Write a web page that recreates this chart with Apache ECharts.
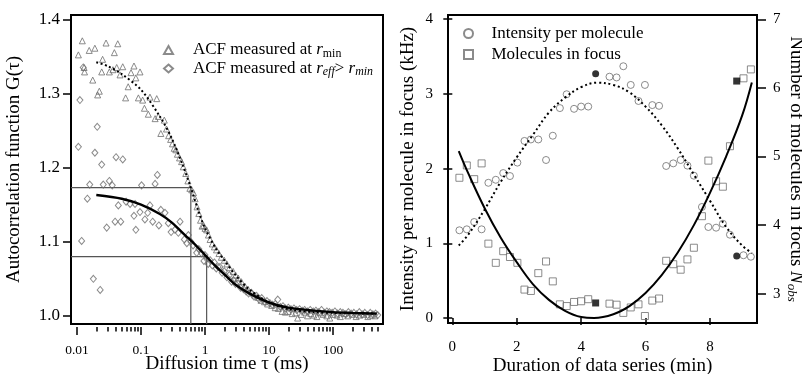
<!DOCTYPE html>
<html><head><meta charset="utf-8">
<script src="https://cdn.jsdelivr.net/npm/echarts@6/dist/echarts.min.js"></script>
<style>html,body{margin:0;padding:0;background:#fff}#c{width:802px;height:374px}</style>
</head><body><div id="c"></div>
<script>
// ---------- Left panel data: [tau (ms), G(tau)] ----------
const acfRmin = [[0.0105,1.352],[0.0121,1.371],[0.0129,1.335],[0.0131,1.329],[0.0155,1.358],[0.0176,1.318],[0.019,1.361],[0.021,1.298],[0.0223,1.303],[0.0243,1.329],[0.0251,1.346],[0.0284,1.368],[0.032,1.329],[0.0364,1.332],[0.0383,1.355],[0.0417,1.335],[0.0433,1.367],[0.047,1.325],[0.0518,1.336],[0.0574,1.294],[0.063,1.309],[0.0698,1.328],[0.0776,1.337],[0.083,1.321],[0.091,1.294],[0.0964,1.329],[0.106,1.291],[0.113,1.28],[0.13,1.272],[0.138,1.295],[0.166,1.266],[0.176,1.293],[0.186,1.269],[0.204,1.246],[0.231,1.264],[0.25,1.252],[0.27,1.243],[0.29,1.238],[0.31,1.232],[0.33,1.226],[0.35,1.224],[0.37,1.218],[0.4,1.213],[0.43,1.208],[0.457,1.201],[0.5,1.192],[0.54,1.182],[0.58,1.172],[0.62,1.17],[0.66,1.166],[0.7,1.158],[0.75,1.147],[0.8,1.138],[0.85,1.129],[0.9,1.121],[0.95,1.122],[1.0,1.118],[1.06,1.116],[1.13,1.109],[1.2,1.103],[1.3,1.097],[1.4,1.093],[1.51,1.089],[1.65,1.084],[1.8,1.079],[2.0,1.075],[2.2,1.07],[2.4,1.065],[2.75,1.06],[3.0,1.055],[3.3,1.051],[3.7,1.046],[4.2,1.04],[4.7,1.036],[5.3,1.032],[6.0,1.028],[6.7,1.025],[7.5,1.021],[8.5,1.019],[9.5,1.016],[11,1.014],[12.5,1.011],[14,1.01],[16,1.006],[18,1.005],[20,1.006],[23,1.003],[26,1.004],[28,0.997],[32,1.002],[36,1.005],[40,1.0],[45,1.003],[50,1.001],[56,0.999],[63,1.004],[70,1.002],[80,1.0],[89,0.997],[100,1.002],[115,1.001],[130,0.999],[150,1.003],[170,1.0],[200,1.002],[230,0.999],[260,1.001],[300,1.002],[350,0.999],[400,1.001],[450,1.0]];
const acfReff = [[0.0105,1.228],[0.0111,1.291],[0.0118,1.101],[0.0125,1.335],[0.0145,1.158],[0.0158,1.177],[0.018,1.05],[0.019,1.22],[0.0207,1.255],[0.023,1.035],[0.0243,1.204],[0.0257,1.177],[0.0291,1.119],[0.032,1.182],[0.0355,1.176],[0.0393,1.127],[0.0407,1.214],[0.0442,1.149],[0.0482,1.127],[0.0518,1.211],[0.0584,1.154],[0.0675,1.151],[0.0776,1.135],[0.0806,1.151],[0.083,1.116],[0.0964,1.14],[0.102,1.176],[0.115,1.13],[0.127,1.139],[0.138,1.149],[0.152,1.127],[0.166,1.178],[0.18,1.19],[0.19,1.122],[0.204,1.143],[0.237,1.139],[0.267,1.125],[0.295,1.113],[0.339,1.116],[0.383,1.112],[0.407,1.127],[0.475,1.103],[0.52,1.098],[0.55,1.109],[0.6,1.1],[0.65,1.095],[0.74,1.085],[0.8,1.09],[0.89,1.084],[0.96,1.074],[1.0,1.082],[1.06,1.077],[1.12,1.07],[1.2,1.075],[1.3,1.068],[1.4,1.072],[1.5,1.064],[1.6,1.066],[1.71,1.066],[1.85,1.058],[2.0,1.06],[2.2,1.052],[2.4,1.055],[2.6,1.046],[2.8,1.048],[3.0,1.043],[3.3,1.044],[3.6,1.038],[4.0,1.036],[4.4,1.033],[4.8,1.03],[5.3,1.031],[5.8,1.026],[6.4,1.027],[7.0,1.022],[7.7,1.024],[8.5,1.019],[9.3,1.02],[10.3,1.017],[11.3,1.015],[12.5,1.016],[13.7,1.022],[15,1.012],[16.5,1.013],[18,1.01],[20,1.011],[22,1.009],[24.5,1.01],[27,1.008],[30,1.009],[33,1.007],[36,1.008],[40,1.006],[44,1.008],[49,1.006],[54,1.007],[60,1.005],[66,1.008],[73,1.004],[80,1.006],[88,1.005],[97,1.004],[107,1.006],[118,1.003],[130,1.005],[143,1.004],[158,1.002],[174,1.005],[192,1.003],[212,1.004],[234,1.002],[258,1.005],[285,1.002],[314,1.004],[346,1.001],[382,1.004],[420,1.002],[463,1.003],[500,1.001]];
const fitRmin = [[0.02,1.342],[0.03,1.337],[0.05,1.326],[0.1,1.305],[0.2,1.268],[0.3,1.24],[0.45,1.203],[0.6,1.173],[0.8,1.14],[1.0,1.118],[1.5,1.09],[2,1.075],[3,1.055],[5,1.035],[10,1.018],[20,1.009],[50,1.005],[100,1.004],[480,1.003]];
const fitReff = [[0.02,1.163],[0.05,1.158],[0.1,1.15],[0.2,1.137],[0.3,1.126],[0.5,1.108],[0.7,1.096],[1.0,1.082],[1.5,1.066],[2,1.056],[3,1.042],[5,1.03],[10,1.018],[20,1.011],[50,1.007],[100,1.005],[200,1.004],[480,1.003]];
const guideUpper = [[0.00805,1.173],[0.6,1.173],[0.6,0.989]];
const guideLower = [[0.00805,1.08],[1.06,1.08],[1.06,0.989]];
const leftXMajor = [0.01,0.1,1,10,100];
const leftXMinor = [0.02,0.03,0.04,0.05,0.06,0.07,0.08,0.09,0.2,0.3,0.4,0.5,0.6,0.7,0.8,0.9,2,3,4,5,6,7,8,9,20,30,40,50,60,70,80,90,200,300,400,500];
const leftYTicks = [1.0,1.1,1.2,1.3,1.4];

// ---------- Right panel data ----------
const timeMin = [0.22,0.45,0.68,0.91,1.12,1.35,1.58,1.79,2.02,2.24,2.44,2.67,2.91,3.12,3.34,3.55,3.78,4.0,4.22,4.88,5.1,5.31,5.54,5.78,5.98,6.21,6.42,6.64,6.86,7.09,7.3,7.5,7.75,7.95,8.19,8.4,8.62,9.04,9.27];
const intensity = [1.174,1.187,1.285,1.187,1.81,1.85,1.94,1.9,2.08,2.37,2.39,2.39,2.115,2.44,2.81,2.995,2.8,2.83,2.83,3.23,3.22,3.37,3.12,2.905,3.12,2.85,2.84,2.035,2.07,2.115,2.04,1.905,1.486,1.218,1.209,1.262,1.115,0.84,0.82];
const molecules = [4.69,4.87,4.67,4.9,3.73,3.45,3.62,3.535,3.45,3.06,3.04,3.3,3.47,3.18,2.845,2.82,2.88,2.89,2.92,2.855,2.84,2.72,2.8,2.845,2.675,2.9,2.93,3.48,3.43,3.35,3.5,3.67,4.13,4.94,4.64,4.56,5.15,6.14,6.27];
const timeMarked = [4.45,8.83];
const intensityMarked = [3.27,0.83];
const moleculesMarked = [2.865,6.1];
const intFitT = [0.2,0.5,1.0,1.5,2.0,2.5,3.0,3.5,4.0,4.5,5.0,5.5,6.0,6.5,7.0,7.5,8.0,8.5,9.0,9.3];
const intFitV = [0.97,1.12,1.45,1.82,2.15,2.45,2.75,2.95,3.09,3.15,3.12,3.02,2.83,2.58,2.27,1.92,1.57,1.22,0.97,0.87];
const molFitT = [0.2,0.5,1.0,1.5,2.0,2.5,3.0,3.5,4.0,4.4,5.0,5.5,6.0,6.5,7.0,7.5,8.0,8.5,9.0,9.3];
const molFitV = [5.08,4.75,4.25,3.82,3.46,3.14,2.91,2.75,2.66,2.645,2.7,2.82,3.01,3.27,3.6,4.0,4.47,5.0,5.6,6.08];
const rightXTicks = [0,2,4,6,8];
const rightYLTicks = [0,1,2,3,4];
const rightYRTicks = [3,4,5,6,7];

const FF = 'Liberation Serif';
const zip = (a, b) => a.map((v, i) => [v, b[i]]);
const hollow = c => ({ color: 'rgba(255,255,255,0)', borderColor: c, borderWidth: 1 });
const tickStyle = { color: '#000', width: 1.5 };
const richLegend = (fs) => ({
  t: { fontFamily: FF, fontSize: fs, color: '#000' },
  i: { fontFamily: FF, fontSize: fs, fontStyle: 'italic', color: '#000' },
  s: { fontFamily: FF, fontSize: fs * 0.7, color: '#000', padding: [7, 0, 0, 0] },
  si: { fontFamily: FF, fontSize: fs * 0.7, fontStyle: 'italic', color: '#000', padding: [7, 0, 0, 0] }
});
const nameStyle = { fontFamily: FF, fontSize: 19, color: '#000' };

const chart = echarts.init(document.getElementById('c'), null, { renderer: 'canvas' });
const option = {
  animation: false,
  textStyle: { fontFamily: FF, color: '#000' },
  grid: [
    { left: 71, right: 419, top: 15, bottom: 50, show: true, borderColor: '#000', borderWidth: 2, backgroundColor: 'transparent', containLabel: false, outerBoundsMode: 'none' },
    { left: 448, right: 45, top: 15, bottom: 51, show: true, borderColor: '#000', borderWidth: 2, backgroundColor: 'transparent', containLabel: false, outerBoundsMode: 'none' }
  ],
  legend: [
    {
      data: ['rmin', 'reff'], left: 158, top: 36, orient: 'vertical', itemWidth: 9, itemHeight: 8, itemGap: 0,
      textStyle: { fontFamily: FF, fontSize: 17, color: '#000', lineHeight: 18, padding: [0, 0, 0, 15], rich: richLegend(17) },
      formatter: n => n === 'rmin' ? '{t|ACF measured at }{i|r}{s|min}' : '{t|ACF measured at }{i|r}{si|eff}{t|> }{i|r}{si|min}'
    },
    {
      data: ['Intensity per molecule', 'Molecules in focus'], left: 458, top: 18, orient: 'vertical', itemWidth: 9, itemHeight: 9, itemGap: 0,
      textStyle: { fontFamily: FF, fontSize: 17, color: '#000', lineHeight: 21, padding: [0, 0, 0, 13.5] }
    }
  ],
  xAxis: [
    {
      gridIndex: 0, type: 'log', min: 0.00805, max: 604, position: 'bottom', offset: 3,
      axisLine: { show: false }, splitLine: { show: false },
      axisTick: { show: true, length: 8, lineStyle: tickStyle, customValues: leftXMajor },
      axisLabel: { customValues: leftXMajor, fontSize: 13.5, fontFamily: FF, color: '#000', margin: 16, formatter: v => String(+v.toPrecision(3)) },
      name: 'Diffusion time τ (ms)', nameLocation: 'middle', nameGap: 28, nameMoveOverlap: false,
      nameTextStyle: nameStyle
    },
    {
      gridIndex: 0, type: 'log', min: 0.00805, max: 604, position: 'bottom', offset: 3,
      axisLine: { show: false }, splitLine: { show: false },
      axisTick: { show: true, length: 4.5, lineStyle: tickStyle, customValues: leftXMinor },
      axisLabel: { show: false }
    },
    {
      gridIndex: 1, type: 'value', min: -0.134, max: 9.46, position: 'bottom', offset: 3,
      axisLine: { show: false }, splitLine: { show: false },
      axisTick: { show: true, length: 7, lineStyle: tickStyle, customValues: rightXTicks },
      axisLabel: { customValues: rightXTicks, fontSize: 15, fontFamily: FF, color: '#000', margin: 14 },
      name: 'Duration of data series (min)', nameLocation: 'middle', nameGap: 31, nameMoveOverlap: false,
      nameTextStyle: nameStyle
    }
  ],
  yAxis: [
    {
      gridIndex: 0, type: 'value', min: 0.989, max: 1.4058, position: 'left',
      axisLine: { show: false }, splitLine: { show: false },
      axisTick: { show: true, length: 8, lineStyle: tickStyle, customValues: leftYTicks },
      axisLabel: { customValues: leftYTicks, fontSize: 17, fontFamily: FF, color: '#000', margin: 11, formatter: v => (+v).toFixed(1) },
      name: 'Autocorrelation function G(τ)', nameLocation: 'middle', nameGap: 47, nameMoveOverlap: false,
      nameTextStyle: nameStyle
    },
    {
      gridIndex: 1, type: 'value', min: -0.067, max: 4.056, position: 'left',
      axisLine: { show: false }, splitLine: { show: false },
      axisTick: { show: true, length: 9, lineStyle: tickStyle, customValues: rightYLTicks },
      axisLabel: { customValues: rightYLTicks, fontSize: 15, fontFamily: FF, color: '#000', margin: 15 },
      name: 'Intensity per molecule in focus (kHz)', nameLocation: 'middle', nameGap: 30, nameMoveOverlap: false,
      nameTextStyle: nameStyle
    },
    {
      gridIndex: 1, type: 'value', min: 2.573, max: 7.063, position: 'right',
      axisLine: { show: false }, splitLine: { show: false },
      axisTick: { show: true, length: 9, lineStyle: tickStyle, customValues: rightYRTicks },
      axisLabel: { customValues: rightYRTicks, fontSize: 15, fontFamily: FF, color: '#000', margin: 16 },
      name: 'Number of molecules in focus {i|N}{s|obs}', nameLocation: 'middle', nameGap: 28, nameRotate: -90, nameMoveOverlap: false,
      nameTextStyle: { fontFamily: FF, fontSize: 19, color: '#000', rich: {
        i: { fontFamily: FF, fontSize: 19, fontStyle: 'italic', color: '#000' },
        s: { fontFamily: FF, fontSize: 13, fontStyle: 'italic', color: '#000', padding: [9, 0, 0, 0] } } }
    }
  ],
  series: [
    { name: 'guide1', type: 'line', xAxisIndex: 0, yAxisIndex: 0, data: guideUpper, showSymbol: false, lineStyle: { color: '#555', width: 1.2 }, silent: true, z: 1 },
    { name: 'guide2', type: 'line', xAxisIndex: 0, yAxisIndex: 0, data: guideLower, showSymbol: false, lineStyle: { color: '#555', width: 1.2 }, silent: true, z: 1 },
    { name: 'rmin', type: 'scatter', xAxisIndex: 0, yAxisIndex: 0, data: acfRmin, symbol: 'triangle', symbolSize: 6, itemStyle: hollow('#6e6e6e'), z: 2 },
    { name: 'reff', type: 'scatter', xAxisIndex: 0, yAxisIndex: 0, data: acfReff, symbol: 'diamond', symbolSize: [6, 7], itemStyle: hollow('#6e6e6e'), z: 2 },
    { name: 'fitRmin', type: 'line', xAxisIndex: 0, yAxisIndex: 0, data: fitRmin, smooth: 0.3, showSymbol: false, lineStyle: { color: '#000', width: 2, type: [2, 2.5] }, z: 3 },
    { name: 'fitReff', type: 'line', xAxisIndex: 0, yAxisIndex: 0, data: fitReff, smooth: 0.3, showSymbol: false, lineStyle: { color: '#000', width: 2.4 }, z: 3 },

    { name: 'Intensity per molecule', type: 'scatter', xAxisIndex: 2, yAxisIndex: 1, data: zip(timeMin, intensity), symbol: 'circle', symbolSize: 7, itemStyle: hollow('#6e6e6e'), z: 2 },
    { name: 'Molecules in focus', type: 'scatter', xAxisIndex: 2, yAxisIndex: 2, data: zip(timeMin, molecules), symbol: 'rect', symbolSize: 7, itemStyle: hollow('#6e6e6e'), z: 2 },
    { name: 'intMarked', type: 'scatter', xAxisIndex: 2, yAxisIndex: 1, data: zip(timeMarked, intensityMarked), symbol: 'circle', symbolSize: 7, itemStyle: { color: '#000' }, z: 4 },
    { name: 'molMarked', type: 'scatter', xAxisIndex: 2, yAxisIndex: 2, data: zip(timeMarked, moleculesMarked), symbol: 'rect', symbolSize: 7, itemStyle: { color: '#000' }, z: 4 },
    { name: 'intFit', type: 'line', xAxisIndex: 2, yAxisIndex: 1, data: zip(intFitT, intFitV), smooth: 0.4, showSymbol: false, lineStyle: { color: '#000', width: 2, type: [2, 2.8] }, z: 3 },
    { name: 'molFit', type: 'line', xAxisIndex: 2, yAxisIndex: 2, data: zip(molFitT, molFitV), smooth: 0.4, showSymbol: false, lineStyle: { color: '#000', width: 2 }, z: 3 }
  ]
};
chart.setOption(option);
</script></body></html>
